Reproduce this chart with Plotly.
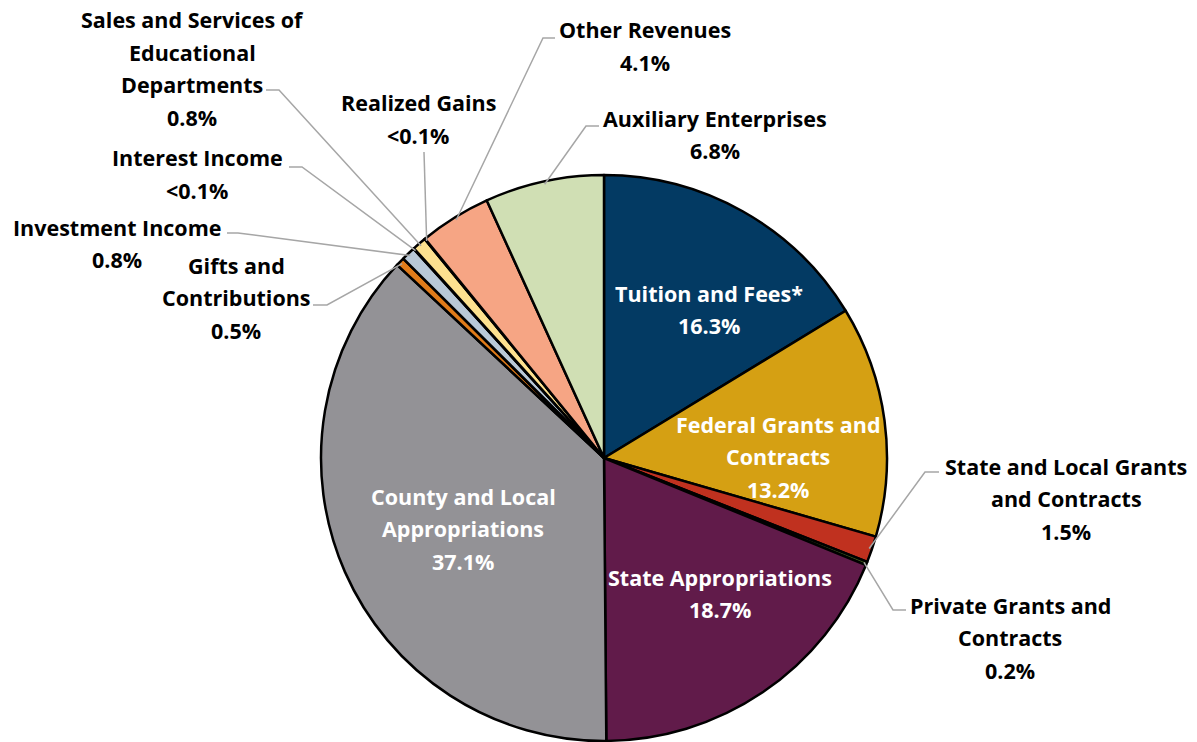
import math
import plotly.graph_objects as go

# ---- data ----
categories = [
    "Tuition and Fees*", "Federal Grants and Contracts", "State and Local Grants and Contracts",
    "Private Grants and Contracts", "State Appropriations", "County and Local Appropriations",
    "Gifts and Contributions", "Investment Income", "Interest Income",
    "Sales and Services of Educational Departments", "Realized Gains", "Other Revenues",
    "Auxiliary Enterprises",
]
values = [16.3, 13.2, 1.5, 0.2, 18.7, 37.1, 0.5, 0.8, 0.03, 0.8, 0.03, 4.1, 6.8]
value_labels = ["16.3%", "13.2%", "1.5%", "0.2%", "18.7%", "37.1%", "0.5%", "0.8%",
                "<0.1%", "0.8%", "<0.1%", "4.1%", "6.8%"]
colors = ["#033a63", "#d5a013", "#c0311f", "#3c5a1e", "#611b4a", "#939296", "#e07b1a",
          "#b9c8d7", "#d9d9d9", "#fde18f", "#7f7f7f", "#f6a584", "#d0dfb4"]

# label text lines (name lines) per slice
label_lines = {
    0: ["Tuition and Fees*"],
    1: ["Federal Grants and", "Contracts"],
    2: ["State and Local Grants", "and Contracts"],
    3: ["Private Grants and", "Contracts"],
    4: ["State Appropriations"],
    5: ["County and Local", "Appropriations"],
    6: ["Gifts and", "Contributions"],
    7: ["Investment Income"],
    8: ["Interest Income"],
    9: ["Sales and Services of", "Educational", "Departments"],
    10: ["Realized Gains"],
    11: ["Other Revenues"],
    12: ["Auxiliary Enterprises"],
}
inside = {0, 1, 4, 5}

# ---- layout geometry (pixels in the screenshot) ----
W, H = 1197, 742
OFF = 8  # page body margin
CX, CY, R = 604, 458, 283
LINE_H = 32.5
label_pos = {
    0: (709, 293), 1: (778, 424), 4: (720, 577), 5: (463, 496),
    2: (1066, 466), 3: (1010, 605), 6: (236, 265), 7: (117, 227),
    8: (197, 158), 9: (192, 20), 10: (418, 103), 11: (645, 30), 12: (715, 118),
}
leaders = {
    9: [(266, 90), (279, 90)],
    8: [(289, 167), (302, 167)],
    7: [(227, 233), (238, 233)],
    6: [(313, 305), (327, 305)],
    10: [(424, 152), (424, 152)],
    11: [(555, 38), (543, 38)],
    12: [(599, 126), (586, 126)],
    2: [(939, 472), (925, 472)],
    3: [(906, 610), (893, 610)],
}

def px(x):
    return (x - OFF) / W

def py(y):
    return 1 - (y - OFF) / H

fig = go.Figure(go.Pie(
    labels=categories, values=values, sort=False, direction="clockwise", rotation=0,
    marker=dict(colors=colors, line=dict(color="#000000", width=2.5)),
    textinfo="none", hoverinfo="label+percent", showlegend=False,
    domain=dict(x=[px(CX - R), px(CX + R)], y=[py(CY + R), py(CY - R)]),
))

FONT = "Open Sans"
annotations = []
for i, lines in label_lines.items():
    x0, y0 = label_pos[i]
    col = "#ffffff" if i in inside else "#000000"
    for k, t in enumerate(lines + [value_labels[i]]):
        annotations.append(dict(
            x=px(x0), y=py(y0 + k * LINE_H), xref="paper", yref="paper",
            text="<b>" + t + "</b>", showarrow=False, xanchor="center", yanchor="middle",
            borderpad=0, font=dict(family=FONT, size=21.5, color=col),
        ))

total = sum(values)
shapes = []
cum = 0.0
mids = []
for v in values:
    mids.append((cum + v / 2) / total * 2 * math.pi)
    cum += v
for i, (p1, p2) in leaders.items():
    a = mids[i]
    ex = CX + R * 0.99 * math.sin(a)
    ey = CY - R * 0.99 * math.cos(a)
    path = f"M {px(p1[0])},{py(p1[1])} L {px(p2[0])},{py(p2[1])} L {px(ex)},{py(ey)}"
    shapes.append(dict(type="path", path=path, xref="paper", yref="paper",
                       line=dict(color="#a6a6a6", width=1.5)))

fig.update_layout(
    width=W, height=H, margin=dict(l=0, r=0, t=0, b=0),
    paper_bgcolor="#ffffff", plot_bgcolor="#ffffff",
    annotations=annotations, shapes=shapes,
)
fig.write_html("out.html")
